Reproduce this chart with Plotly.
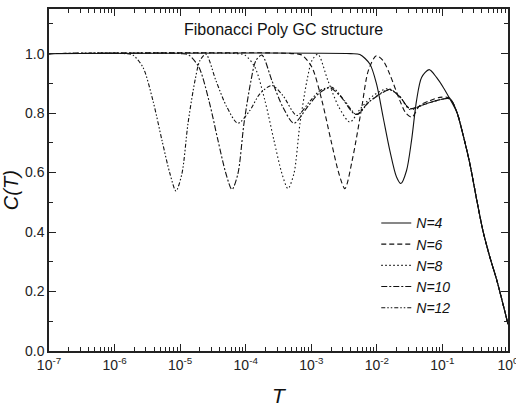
import plotly.graph_objects as go

# ---- data (log10 T, C(T)) ----
tail_logT = [-0.78, -0.689, -0.582, -0.476, -0.384, -0.277, -0.171, -0.079, 0.0]
tail_C = [0.803, 0.73, 0.63, 0.507, 0.406, 0.316, 0.238, 0.16, 0.09]

n4_logT = [-7, -2.4, -2.259, -2.107, -2.005, -1.904, -1.802, -1.7, -1.634, -1.547, -1.471,
           -1.395, -1.318, -1.203, -1.09, -0.989, -0.887]
n4_C = [1.0, 1.0, 0.997, 0.965, 0.898, 0.786, 0.674, 0.585, 0.563, 0.607, 0.708,
        0.842, 0.92, 0.946, 0.92, 0.887, 0.848]

n6_logT = [-7, -3.265, -3.143, -2.99, -2.838, -2.7, -2.578, -2.488, -2.366, -2.23, -2.13,
           -2.008, -1.901, -1.802, -1.649, -1.558, -1.466, -1.344, -1.192, -1.04, -0.887]
n6_C = [1.0, 1.0, 0.995, 0.954, 0.842, 0.708, 0.596, 0.546, 0.652, 0.82, 0.943,
        0.993, 0.975, 0.93, 0.842, 0.8, 0.786, 0.826, 0.842, 0.853, 0.85]

n8_logT = [-7, -4.132, -4.012, -3.859, -3.707, -3.569, -3.447, -3.356, -3.265, -3.173, -3.066,
           -2.99, -2.899, -2.746, -2.579, -2.411, -2.25, -2.05, -1.83, -1.649, -1.497,
           -1.268, -1.04, -0.887]
n8_C = [1.0, 1.0, 0.995, 0.954, 0.842, 0.708, 0.596, 0.546, 0.596, 0.764, 0.909,
        0.977, 0.998, 0.909, 0.82, 0.77, 0.815, 0.86, 0.882, 0.855, 0.812,
        0.83, 0.845, 0.848]

n10_logT = [-7, -4.986, -4.866, -4.713, -4.561, -4.423, -4.301, -4.21, -4.119, -4.027, -3.92,
            -3.844, -3.753, -3.6, -3.433, -3.265, -3.06, -2.89, -2.72, -2.55, -2.32,
            -2.107, -1.802, -1.649, -1.497, -1.268, -1.04, -0.887]
n10_C = [1.0, 1.0, 0.995, 0.954, 0.842, 0.708, 0.596, 0.543, 0.596, 0.764, 0.909,
         0.977, 0.995, 0.909, 0.82, 0.766, 0.82, 0.865, 0.885, 0.855, 0.795,
         0.84, 0.878, 0.855, 0.815, 0.83, 0.845, 0.848]

n12_logT = [-7, -5.84, -5.72, -5.567, -5.415, -5.277, -5.155, -5.064, -4.973, -4.881, -4.774,
            -4.698, -4.607, -4.454, -4.287, -4.119, -3.936, -3.784, -3.601, -3.433, -3.22,
            -3.021, -2.869, -2.686, -2.488, -2.305, -2.107, -1.802, -1.649, -1.497, -1.268,
            -1.04, -0.887]
n12_C = [1.0, 1.0, 0.995, 0.954, 0.842, 0.708, 0.596, 0.538, 0.596, 0.764, 0.909,
         0.977, 0.998, 0.909, 0.82, 0.766, 0.809, 0.865, 0.893, 0.859, 0.792,
         0.84, 0.875, 0.887, 0.84, 0.795, 0.84, 0.88, 0.855, 0.815, 0.83,
         0.845, 0.848]

series_names = ["N=4", "N=6", "N=8", "N=10", "N=12"]
series_logT = [n4_logT, n6_logT, n8_logT, n10_logT, n12_logT]
series_C = [n4_C, n6_C, n8_C, n10_C, n12_C]
series_dash = ["solid", "5px,3px", "1.5px,2.5px", "6px,2px,2px,2px", "4px,2px,1.5px,2px,1.5px,2px"]

x_tick_exponents = [-7, -6, -5, -4, -3, -2, -1, 0]
x_tick_labels = ["10<sup>-7</sup>", "10<sup>-6</sup>", "10<sup>-5</sup>", "10<sup>-4</sup>",
                 "10<sup>-3</sup>", "10<sup>-2</sup>", "10<sup>-1</sup>", "10<sup>0</sup>"]

title_text = "Fibonacci Poly GC structure"
x_title = "T"
y_title = "C(T)"

FONT = "Liberation Sans, Arial, sans-serif"

fig = go.Figure()
for name, lx, cy, dash in zip(series_names, series_logT, series_C, series_dash):
    xs = [10 ** v for v in lx + tail_logT]
    ys = cy + tail_C
    fig.add_trace(go.Scatter(
        x=xs, y=ys, mode="lines", name=name,
        line=dict(color="#111111", width=1.1, dash=dash, shape="spline", smoothing=0.8),
    ))

axis_common = dict(
    showline=True, linecolor="#222222", linewidth=1.5, mirror="allticks",
    ticks="inside", tickcolor="#222222", tickwidth=1.2,
    showgrid=False, zeroline=False, automargin=False, ticklabeloverflow="allow",
    tickfont=dict(family=FONT, size=14, color="#222222"),
)

fig.update_xaxes(
    type="log", range=[-7, 0],
    tickvals=[10 ** e for e in x_tick_exponents], ticktext=x_tick_labels, ticklen=7,
    minor=dict(ticks="inside", ticklen=4, dtick="D1", tickcolor="#222222", tickwidth=1, showgrid=False),
    **axis_common,
)
fig.update_yaxes(
    range=[0, 1.15], dtick=0.2, tickformat=".1f", ticklen=7,
    minor=dict(ticks="inside", ticklen=4, dtick=0.1, tickcolor="#222222", tickwidth=1, showgrid=False),
    **axis_common,
)

fig.add_annotation(text=title_text, xref="paper", yref="paper", x=0.51, y=0.9415,
                   xanchor="center", yanchor="middle",
                   showarrow=False, font=dict(family=FONT, size=16, color="#111111"))
fig.add_annotation(text=x_title, xref="paper", yref="paper", x=0.503, y=-0.1287,
                   xanchor="center", yanchor="middle",
                   showarrow=False, font=dict(family=FONT, size=21, color="#111111", style="italic"))
fig.add_annotation(text=y_title, xref="paper", yref="paper", x=-0.083, y=0.47, textangle=-90,
                   xanchor="center", yanchor="middle",
                   showarrow=False, font=dict(family=FONT, size=20, color="#111111", style="italic"))

fig.update_layout(
    width=516, height=407,
    margin=dict(l=49, r=8, t=9, b=56),
    paper_bgcolor="white", plot_bgcolor="white",
    showlegend=True,
    legend=dict(x=0.713, y=0.42, xanchor="left", yanchor="top", bgcolor="rgba(0,0,0,0)",
                font=dict(family=FONT, size=14, color="#111111", style="italic"),
                tracegroupgap=0, itemwidth=30),
)

fig.write_html("out.html")
